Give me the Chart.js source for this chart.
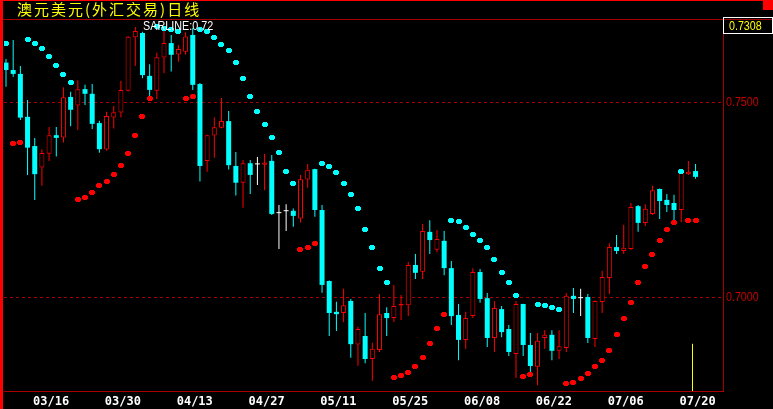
<!DOCTYPE html>
<html><head><meta charset="utf-8">
<script src="https://cdn.jsdelivr.net/npm/chart.js@4/dist/chart.umd.min.js"></script>
<style>
html,body{margin:0;padding:0;background:#000;overflow:hidden;}
#wrap{position:relative;width:773px;height:409px;}
canvas{position:absolute;left:0;top:0;}
.t{position:absolute;white-space:nowrap;line-height:1;}
#title{left:17px;top:1px;color:#ffff00;font-size:15px;font-family:"Noto Sans CJK SC";letter-spacing:2px;}
#sar{left:143px;top:19px;color:#fff;font-size:13px;font-family:"Liberation Sans",sans-serif;transform:scaleX(0.83);transform-origin:0 0;}
#pricebox{position:absolute;left:723px;top:17px;width:50px;height:17px;box-sizing:border-box;border:1px solid #fff;}
#price{left:729px;top:19px;color:#ffff00;font-size:13px;font-family:"Liberation Sans",sans-serif;transform:scaleX(0.82);transform-origin:0 0;}
</style></head>
<body><div id="wrap"><canvas id="c" width="773" height="409"></canvas>
<div id="title" class="t">澳元美元(外汇交易)日线</div>
<div id="sar" class="t">SARLINE:0.72</div>
<div id="pricebox"></div>
<div id="price" class="t">0.7308</div>
</div>
<script>
const dates = ['03/06','03/09','03/10','03/11','03/12','03/13','03/16','03/17','03/18','03/19','03/20',
'03/23','03/24','03/25','03/26','03/27','03/30','03/31','04/01','04/02','04/03',
'04/06','04/07','04/08','04/09','04/10','04/13','04/14','04/15','04/16','04/17',
'04/20','04/21','04/22','04/23','04/24','04/27','04/28','04/29','04/30','05/01',
'05/04','05/05','05/06','05/07','05/08','05/11','05/12','05/13','05/14','05/15',
'05/18','05/19','05/20','05/21','05/22','05/25','05/26','05/27','05/28','05/29',
'06/01','06/02','06/03','06/04','06/05','06/08','06/09','06/10','06/11','06/12',
'06/15','06/16','06/17','06/18','06/19','06/22','06/23','06/24','06/25','06/26',
'06/29','06/30','07/01','07/02','07/03','07/06','07/07','07/08','07/09','07/10',
'07/13','07/14','07/15','07/16','07/17','07/20'];
const tickDates = ['03/16','03/30','04/13','04/27','05/11','05/25','06/08','06/22','07/06','07/20'];
const priceTicks = [0.7000, 0.7500];

const open = [.7601,.7582,.7572,.7462,.7387,.7332,.7367,.7415,.7409,.7513,
.7491,.7533,.7521,.7446,.7378,.7460,.7473,.7529,.7666,.7677,
.7567,.7529,.7614,.7651,.7622,.7629,.7672,.7546,.7349,.7414,
.7434,.7451,.7336,.7293,.7343,.7340,.7339,.7349,.7215,.7220,
.7221,.7201,.7301,.7328,.7223,.7041,.6962,.6959,.6990,.6878,
.6900,.6841,.6864,.6959,.6946,.6978,.6979,.7082,.7065,.7167,
.7121,.7144,.7074,.6954,.6890,.6951,.7064,.6997,.6895,.6969,
.6918,.6854,.6982,.6877,.6821,.6895,.6903,.6862,.6869,.7003,
.6997,.7000,.6892,.6987,.7049,.7128,.7118,.7123,.7233,.7190,
.7213,.7277,.7249,.7241,.7223,.7315,.7323];
const high = [.7610,.7659,.7592,.7505,.7408,.7379,.7436,.7436,.7538,.7526,
.7556,.7544,.7546,.7452,.7475,.7490,.7554,.7669,.7692,.7680,
.7597,.7626,.7685,.7672,.7646,.7679,.7690,.7549,.7416,.7461,
.7510,.7477,.7372,.7351,.7351,.7359,.7367,.7364,.7236,.7238,
.7227,.7313,.7341,.7329,.7236,.7042,.6988,.7021,.6995,.6924,
.6959,.6883,.7008,.6974,.7031,.7005,.7090,.7110,.7187,.7197,
.7172,.7169,.7092,.6982,.6962,.7074,.7072,.7010,.6990,.6977,
.6928,.6990,.6983,.6908,.6908,.6915,.6915,.6915,.7010,.7023,
.7021,.7008,.6991,.7067,.7138,.7159,.7185,.7241,.7236,.7238,
.7285,.7278,.7264,.7262,.7321,.7349,.7341];
const low = [.7539,.7565,.7454,.7313,.7249,.7285,.7349,.7360,.7396,.7438,
.7428,.7492,.7431,.7370,.7375,.7432,.7460,.7527,.7592,.7561,
.7514,.7508,.7574,.7578,.7603,.7621,.7531,.7296,.7321,.7357,
.7433,.7327,.7260,.7229,.7264,.7287,.7274,.7210,.7123,.7169,
.7180,.7191,.7280,.7206,.7011,.6900,.6913,.6936,.6844,.6824,
.6830,.6785,.6859,.6900,.6936,.6941,.6951,.7046,.7046,.7110,
.7115,.7056,.6928,.6838,.6867,.6946,.6985,.6872,.6859,.6897,
.6849,.6792,.6849,.6808,.6774,.6867,.6838,.6841,.6859,.6959,
.6951,.6882,.6872,.6959,.7008,.7110,.7110,.7121,.7167,.7182,
.7210,.7200,.7218,.7197,.7192,.7313,.7303];
const close = [.7582,.7572,.7460,.7383,.7315,.7369,.7415,.7408,.7512,.7480,
.7533,.7521,.7444,.7379,.7464,.7474,.7531,.7667,.7682,.7569,
.7531,.7615,.7651,.7621,.7636,.7668,.7544,.7336,.7415,.7435,
.7451,.7338,.7293,.7343,.7313,.7340,.7345,.7213,.7215,.7220,
.7208,.7302,.7326,.7223,.7031,.6959,.6956,.6979,.6879,.6918,
.6841,.6867,.6956,.6946,.6977,.6982,.7082,.7062,.7169,.7146,
.7149,.7074,.6951,.6890,.6946,.7064,.6995,.6895,.6972,.6910,
.6859,.6982,.6877,.6823,.6888,.6903,.6862,.6874,.7003,.6995,
.6997,.6895,.6990,.7051,.7128,.7118,.7126,.7231,.7190,.7226,
.7274,.7246,.7236,.7223,.7318,.7321,.7308];
// SAR (SARLINE) values and side: U = below price (red), D = above price (cyan)
const sar = [.7649,.7393,.7397,.7660,.7651,.7637,.7616,.7593,.7570,.7549,
.7251,.7256,.7269,.7285,.7297,.7315,.7336,.7367,.7415,.7464,
.7508,.7693,.7689,.7685,.7680,.7510,.7513,.7687,.7680,.7665,
.7647,.7632,.7601,.7560,.7514,.7475,.7442,.7408,.7370,.7321,
.7290,.7123,.7126,.7136,.7342,.7334,.7318,.7292,.7264,.7226,
.7174,.7128,.7074,.7037,.6793,.6798,.6806,.6823,.6846,.6880,
.6918,.6954,.7197,.7193,.7178,.7159,.7144,.7128,.7097,.7064,
.7038,.7005,.6795,.6800,.6982,.6979,.6974,.6967,.6777,.6780,
.6790,.6805,.6821,.6838,.6864,.6903,.6944,.6987,.7038,.7077,
.7110,.7144,.7172,.7190,.7321,.7195,.7197];
const sarSide = ('DUUDDDDDDD'+'UUUUUUUUUUU'+'DDDD'+'UU'+'DDDDDDDDDDDDDD'+'UUU'+
  'DDDDDDDDDD'+'UUUUUUUU'+'DDDDDDDDDD'+'UU'+'DDDD'+'UUUUUUUUUUUUUUUU'+'D'+'UU').split('');

const RED = '#ff0000', CYAN = '#00ffff', WHITE = '#ffffff', DKRED = '#a80000';
const idx = dates.map((d, i) => i);
const colorOf = i => close[i] > open[i] ? RED : (close[i] < open[i] ? CYAN : WHITE);

function makeDot(color) {
  const c = document.createElement('canvas');
  c.width = 6; c.height = 5;
  const g = c.getContext('2d');
  g.fillStyle = color;
  g.fillRect(1, 0, 4, 5);
  g.fillRect(0, 1, 6, 3);
  return c;
}
const dotRed = makeDot(RED), dotCyan = makeDot(CYAN);

const frame = {
  id: 'frame',
  beforeDraw(chart) {
    const c = chart.ctx, a = chart.chartArea, ys = chart.scales.y;
    c.save();
    c.fillStyle = '#000';
    c.fillRect(0, 0, chart.width, chart.height);
    c.strokeStyle = DKRED; c.lineWidth = 1; c.setLineDash([3, 3]);
    priceTicks.forEach(v => {
      const y = Math.round(ys.getPixelForValue(v)) + 0.5;
      c.beginPath(); c.moveTo(a.left, y); c.lineTo(a.right, y); c.stroke();
    });
    c.restore();
  },
  beforeDatasetsDraw(chart) { chart.ctx.imageSmoothingEnabled = false; },
  afterDatasetsDraw(chart) { chart.ctx.imageSmoothingEnabled = true; },
  afterDraw(chart) {
    const c = chart.ctx, a = chart.chartArea, xs = chart.scales.x, ys = chart.scales.y;
    c.save();
    c.strokeStyle = DKRED; c.lineWidth = 1;
    c.beginPath(); c.moveTo(0, a.top + 0.5); c.lineTo(chart.width, a.top + 0.5); c.stroke();
    const cx = Math.round(xs.getPixelForValue(95.45)) + 0.5;
    c.strokeStyle = '#ffff00';
    c.beginPath(); c.moveTo(cx, ys.getPixelForValue(0.6880)); c.lineTo(cx, a.bottom); c.stroke();
    c.fillStyle = '#ff0000';
    c.fillRect(0, 0, 3, chart.height);
    c.fillRect(0, 0, chart.width, 1);
    c.fillRect(chart.width - 10, 0, 10, 10);
    c.restore();
  }
};

function narrowLabels(s) {
  if (s._narrow) return;
  s._narrow = true;
  const orig = s.drawLabels;
  s.drawLabels = function (area) {
    const c = this.ctx, x0 = this.left + 3;
    c.save(); c.translate(x0, 0); c.scale(0.82, 1); c.translate(-x0, 0);
    orig.call(this, area);
    c.restore();
  };
}

new Chart(document.getElementById('c'), {
  type: 'bar',
  data: {
    datasets: [
      { type: 'line', label: 'SAR up', order: 0, showLine: false,
        data: idx.filter(i => sarSide[i] === 'U').map(i => ({x: i, y: sar[i]})),
        pointStyle: dotRed, pointRadius: 3, borderWidth: 0 },
      { type: 'line', label: 'SAR down', order: 0, showLine: false,
        data: idx.filter(i => sarSide[i] === 'D').map(i => ({x: i, y: sar[i]})),
        pointStyle: dotCyan, pointRadius: 3, borderWidth: 0 },
      { type: 'bar', label: 'body', order: 1, grouped: false,
        data: idx.map(i => ({x: i, y: [Math.min(open[i], close[i]), Math.max(open[i], close[i])]})),
        barThickness: 5, minBarLength: 1, inflateAmount: 0, borderSkipped: false,
        backgroundColor: ctx => { const i = ctx.dataIndex; if (i === undefined) return RED; return close[i] > open[i] ? '#000' : colorOf(i); },
        borderColor: ctx => { const i = ctx.dataIndex; return i === undefined ? RED : colorOf(i); },
        borderWidth: ctx => { const i = ctx.dataIndex; return (i !== undefined && close[i] > open[i]) ? 1 : 0; } },
      { type: 'bar', label: 'wick', order: 2, grouped: false,
        data: idx.map(i => ({x: i, y: [low[i], high[i]]})),
        barThickness: 1, inflateAmount: 0, borderWidth: 0,
        backgroundColor: ctx => { const i = ctx.dataIndex; return i === undefined ? RED : colorOf(i); } }
    ]
  },
  options: {
    responsive: false, animation: false, devicePixelRatio: 1, events: [],
    layout: { padding: { left: 3, top: 19, right: 0, bottom: 0 } },
    plugins: { legend: { display: false }, tooltip: { enabled: false }, title: { display: false } },
    scales: {
      x: { type: 'linear', min: -0.278, max: 99.82, offset: false,
        afterBuildTicks: s => { s.ticks = tickDates.map(d => ({ value: dates.indexOf(d) })); },
        afterFit: s => { s.height = 18; },
        grid: { display: false, drawTicks: false },
        border: { display: true, color: DKRED, width: 1 },
        ticks: { autoSkip: false, maxRotation: 0, padding: 4, labelOffset: 2, color: '#ffffff',
          font: { family: 'DejaVu Sans Mono', size: 12, weight: 'bold' },
          callback: v => dates[v] } },
      y: { type: 'linear', position: 'right', min: 0.675897, max: 0.771282,
        afterBuildTicks: s => { s.ticks = priceTicks.map(v => ({ value: v })); },
        afterFit: s => { s.width = 50; narrowLabels(s); },
        grid: { display: false, drawTicks: false },
        border: { display: true, color: DKRED, width: 1 },
        ticks: { padding: 3, color: '#c80000', crossAlign: 'near',
          font: { family: '"Liberation Sans",sans-serif', size: 13 },
          callback: v => Number(v).toFixed(4) } }
    }
  },
  plugins: [frame]
});
</script>
</body></html>
